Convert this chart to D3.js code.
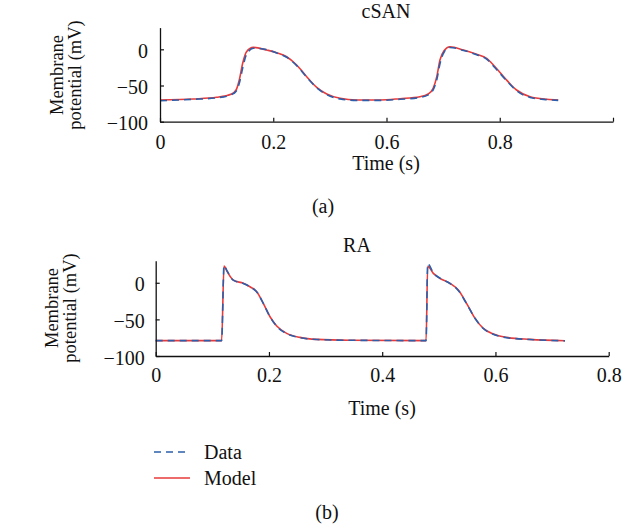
<!DOCTYPE html>
<html><head><meta charset="utf-8">
<script src="https://cdn.jsdelivr.net/npm/d3@7"></script>
<style>
body{margin:0;background:#fff;}
text{font-family:"Liberation Serif","Times New Roman",serif;fill:#111;}
</style></head>
<body><svg id="c" width="630" height="527"></svg>
<script>
// ---- data ----
const cSANTime = [0, 0.074, 0.125, 0.158, 0.168, 0.175, 0.1825, 0.191, 0.206, 0.2355, 0.2576, 0.2796, 0.3017, 0.3238, 0.3459, 0.368, 0.3974, 0.434, 0.486, 0.53, 0.574, 0.592, 0.603, 0.611, 0.618, 0.627, 0.64, 0.67, 0.699, 0.721, 0.7395, 0.7616, 0.787, 0.817, 0.854, 0.879];
const cSANModel = [-70, -68.6, -66.3, -61.7, -56.2, -42.4, -19.3, -3.3, 2.7, -1, -4.6, -10.2, -21.7, -37.8, -52.5, -61.7, -67.7, -70, -70, -68.2, -65.5, -61.7, -53.9, -37.8, -14.8, -1.9, 3.6, -1, -6.9, -12.4, -24, -40, -56.2, -65.5, -69, -70];
const cSANData = [-71, -69, -67, -62.5, -58, -47, -26, -7, 1.5, -0.5, -5, -11, -22.5, -38.5, -53, -62.5, -68.5, -70.5, -70.5, -69, -66.5, -63, -56, -42, -20, -4, 2.5, -1.5, -7.5, -13.5, -25.5, -41, -57, -66.5, -69.5, -70.5];
const cSANTicks = [0, 0.25, 0.5, 0.75, 1];
const cSANTickLabels = ["0", "0.2", "0.6", "0.8", ""];

const raTime = [0, 0.1165, 0.1206, 0.1265, 0.137, 0.1547, 0.1665, 0.1784, 0.19, 0.2019, 0.2137, 0.2313, 0.2548, 0.2843, 0.343, 0.4775, 0.4803, 0.4903, 0.502, 0.5197, 0.5344, 0.549, 0.5639, 0.5786, 0.5962, 0.62, 0.661, 0.7228];
const raModel = [-79, -79, 22.8, 15, 3.7, -0.8, -5.5, -12.3, -28.2, -46.4, -59.1, -69.1, -74.6, -77.3, -78.5, -79, 22.5, 12.8, 6, -0.8, -10, -28.2, -48.6, -62.3, -70, -74.6, -77.3, -79.2];
const raData = [-79, -79, 23.5, 15.5, 3.5, -1, -5.5, -12.5, -28, -46.5, -59.5, -69.5, -75, -77.5, -78.5, -79, 26, 13.5, 6.2, -1, -10.5, -28.5, -48.5, -62.5, -70.3, -75, -77.5, -79.3];
const raTicks = [0, 0.2, 0.4, 0.6, 0.8];
const raTickLabels = ["0", "0.2", "0.4", "0.6", "0.8"];

const yTicks = [-100, -50, 0];
const yTickLabels = ["\u2212100", "\u221250", "0"];
const seriesNames = ["Data", "Model"];

// ---- drawing ----
const svg = d3.select("#c");
const FS = 20, YFS = 18.5;
const dataColor = "#2b5fab", modelColor = "#e83a3a";
const DASH = "7,5";

function panel(o){
  const g = svg.append("g");
  const x = d3.scaleLinear().domain(o.xDomain).range([o.x0, o.x1]);
  const y = d3.scaleLinear().domain([-100, 30]).range([o.y0, o.y1]);
  const line = (vals) => d3.line().curve(d3.curveMonotoneX)
      .x((d,i)=>x(o.time[i])).y(d=>y(d))(vals);
  g.append("path").attr("d", line(o.model)).attr("fill","none")
    .attr("stroke", modelColor).attr("stroke-width",1.6);
  g.append("path").attr("d", line(o.data)).attr("fill","none")
    .attr("stroke", dataColor).attr("stroke-width",1.6).attr("stroke-dasharray",DASH);
  // x axis
  const xa = g.append("g").attr("transform",`translate(0,${o.y0})`)
    .call(d3.axisBottom(x).tickValues(o.xTicks).tickSizeInner(-4).tickSizeOuter(0)
      .tickFormat((d,i)=>o.xLabels[i]));
  xa.select(".domain").attr("stroke","#111").attr("stroke-width",1.3);
  xa.selectAll(".tick line").attr("stroke","#111").attr("stroke-width",1.2);
  xa.selectAll(".tick text").attr("font-size",FS).attr("y",o.xlabOff).attr("dy",0)
    .style("font-family","Liberation Serif").attr("fill","#111");
  // y axis
  const ya = g.append("g").attr("transform",`translate(${o.x0},0)`)
    .call(d3.axisLeft(y).tickValues(yTicks).tickSizeInner(-4).tickSizeOuter(0)
      .tickFormat((d,i)=>yTickLabels[i]));
  ya.select(".domain").attr("stroke","#111").attr("stroke-width",1.3);
  ya.selectAll(".tick line").attr("stroke","#111").attr("stroke-width",1.2);
  ya.selectAll(".tick text").attr("font-size",FS).attr("x",-o.ylabGap).attr("dy","0.4em")
    .style("font-family","Liberation Serif").attr("fill","#111");
  g.append("text").attr("x",o.titleX).attr("y",o.titleY).attr("text-anchor","middle")
    .attr("font-size",FS).text(o.title);
  g.append("text").attr("x",o.xlabX).attr("y",o.xlabY).attr("text-anchor","middle")
    .attr("font-size",FS).text("Time (s)");
  const yl = g.append("text").attr("transform",`translate(${o.ylabX},${o.ylabY}) rotate(-90)`)
    .attr("text-anchor","middle").attr("font-size",YFS);
  yl.append("tspan").attr("x",0).attr("y",0).text("Membrane");
  yl.append("tspan").attr("x",0).attr("y",18).text("potential (mV)");
  g.append("text").attr("x",o.capX).attr("y",o.capY).attr("text-anchor","middle")
    .attr("font-size",FS).text(o.caption);
}

panel({x0:160, x1:613, y0:121.7, y1:27.6, xDomain:[0,1],
  time:cSANTime, model:cSANModel, data:cSANData,
  xTicks:cSANTicks, xLabels:cSANTickLabels, ylabGap:12, xlabOff:27,
  title:"cSAN", titleX:386, titleY:18, xlabX:386, xlabY:170,
  ylabX:63, ylabY:75, caption:"(a)", capX:323, capY:213});

panel({x0:155.7, x1:608.7, y0:356, y1:260.8, xDomain:[0,0.8],
  time:raTime, model:raModel, data:raData,
  xTicks:raTicks, xLabels:raTickLabels, ylabGap:11, xlabOff:26,
  title:"RA", titleX:357, titleY:252, xlabX:382, xlabY:415,
  ylabX:58, ylabY:308, caption:"(b)", capX:327, capY:519});

// legend
const leg = svg.append("g");
const legY = [452, 478];
seriesNames.forEach((n,i)=>{
  leg.append("line").attr("x1",154).attr("x2",190).attr("y1",legY[i]).attr("y2",legY[i])
    .attr("stroke", i===0?dataColor:modelColor).attr("stroke-width",1.5)
    .attr("stroke-dasharray", i===0?DASH:null);
  leg.append("text").attr("x",204).attr("y",legY[i]+7).attr("font-size",FS).text(n);
});
</script></body></html>
